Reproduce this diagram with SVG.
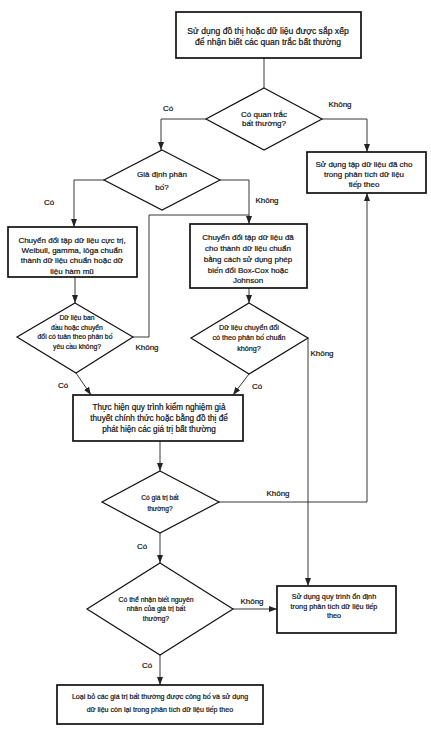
<svg xmlns="http://www.w3.org/2000/svg" width="431" height="734" viewBox="0 0 431 734">
<style>
text{font-family:"Liberation Sans",Arial,sans-serif;fill:#111;stroke:#111;stroke-width:0.2;text-anchor:middle}
.box{fill:#fff;stroke:#111;stroke-width:1.7}
.dia{fill:#fff;stroke:#111;stroke-width:1.2}
.ln{fill:none;stroke:#222;stroke-width:0.9}
.lbl{font-size:8px}
</style>
<defs>
<marker id="ah" viewBox="0 0 8 6" refX="8" refY="3" markerWidth="8" markerHeight="6" markerUnits="userSpaceOnUse" orient="auto">
<path d="M0,0 L8,3 L0,6 z" fill="#222"/>
</marker>
</defs>
<rect width="431" height="734" fill="#fff"/>
<g id="connectors">
<path class="ln" d="M264,58 V88"/>
<path class="ln" d="M206,119 H161 V150" marker-end="url(#ah)"/>
<path class="ln" d="M322,119 H367 V152" marker-end="url(#ah)"/>
<path class="ln" d="M104,180 H74 V227" marker-end="url(#ah)"/>
<path class="ln" d="M220,180 H249 V224" marker-end="url(#ah)"/>
<path class="ln" d="M133,337 H149 V215 H249"/>
<path class="ln" d="M75,277 V303" marker-end="url(#ah)"/>
<path class="ln" d="M249,288 V303" marker-end="url(#ah)"/>
<path class="ln" d="M76,373 L91,395" marker-end="url(#ah)"/>
<path class="ln" d="M249,374 L233,395" marker-end="url(#ah)"/>
<path class="ln" d="M308,338 V586" marker-end="url(#ah)"/>
<path class="ln" d="M160,441 V471" marker-end="url(#ah)"/>
<path class="ln" d="M219,502 H367 V193" marker-end="url(#ah)"/>
<path class="ln" d="M160,533 V563" marker-end="url(#ah)"/>
<path class="ln" d="M233,609 H277" marker-end="url(#ah)"/>
<path class="ln" d="M160,655 V685" marker-end="url(#ah)"/>
<text class="lbl" x="168" y="111">Có</text>
<text class="lbl" x="340" y="107">Không</text>
<text class="lbl" x="49" y="205">Có</text>
<text class="lbl" x="267" y="203">Không</text>
<text class="lbl" x="147" y="350">Không</text>
<text class="lbl" x="63" y="388">Có</text>
<text class="lbl" x="322" y="356">Không</text>
<text class="lbl" x="257" y="389">Có</text>
<text class="lbl" x="278" y="496">Không</text>
<text class="lbl" x="142" y="549">Có</text>
<text class="lbl" x="252" y="604">Không</text>
<text class="lbl" x="147" y="668">Có</text>
</g>
<g id="n1">
<rect class="box" x="176" y="12" width="185" height="46"/>
<text font-size="8.6" x="268" y="34">Sử dụng đồ thị hoặc dữ liệu được sắp xếp</text>
<text font-size="8.6" x="268" y="45">để nhận biết các quan trắc bất thường</text>
</g>
<g id="d1">
<polygon class="dia" points="264,88 322,119 264,150 206,119"/>
<text font-size="8" x="264" y="117">Có quan trắc</text>
<text font-size="8" x="264" y="126">bất thường?</text>
</g>
<g id="n2">
<rect class="box" x="307" y="152" width="119" height="41"/>
<text font-size="8" x="364" y="167">Sử dụng tập dữ liệu đã cho</text>
<text font-size="8" x="364" y="177">trong phân tích dữ liệu</text>
<text font-size="8" x="364" y="187">tiếp theo</text>
</g>
<g id="d2">
<polygon class="dia" points="162,150 220,180 162,210 104,180"/>
<text font-size="8" x="162" y="177">Giả định phân</text>
<text font-size="8" x="162" y="190">bố?</text>
</g>
<g id="n3">
<rect class="box" x="8" y="227" width="129" height="50"/>
<text font-size="8" x="72" y="243">Chuyển đổi tập dữ liệu cực trị,</text>
<text font-size="8" x="72" y="253">Weibull, gamma, lôga chuẩn</text>
<text font-size="8" x="72" y="263">thành dữ liệu chuẩn hoặc dữ</text>
<text font-size="8" x="72" y="274">liệu hàm mũ</text>
</g>
<g id="n4">
<rect class="box" x="190" y="224" width="117" height="64"/>
<text font-size="8" x="248" y="240">Chuyển đổi tập dữ liệu đã</text>
<text font-size="8" x="248" y="251">cho thành dữ liệu chuẩn</text>
<text font-size="8" x="248" y="262">bằng cách sử dụng phép</text>
<text font-size="8" x="248" y="273">biến đổi Box-Cox hoặc</text>
<text font-size="8" x="248" y="283">Johnson</text>
</g>
<g id="d3">
<polygon class="dia" points="75,303 133,337 76,373 17,337"/>
<text font-size="6.8" x="77" y="320">Dữ liệu ban</text>
<text font-size="6.8" x="77" y="330">đầu hoặc chuyển</text>
<text font-size="6.8" x="75" y="339">đổi có tuân theo phân bố</text>
<text font-size="6.8" x="77" y="349">yêu cầu không?</text>
</g>
<g id="d4">
<polygon class="dia" points="249,303 308,338 249,374 191,338"/>
<text font-size="7.2" x="249" y="330">Dữ liệu chuyển đổi</text>
<text font-size="7.2" x="249" y="340">có theo phân bố chuẩn</text>
<text font-size="7.2" x="249" y="351">không?</text>
</g>
<g id="n5">
<rect class="box" x="73" y="395" width="170" height="46"/>
<text font-size="8.2" x="159" y="410">Thực hiện quy trình kiểm nghiệm giả</text>
<text font-size="8.2" x="159" y="421">thuyết chính thức hoặc bằng đồ thị để</text>
<text font-size="8.2" x="159" y="432">phát hiện các giá trị bất thường</text>
</g>
<g id="d5">
<polygon class="dia" points="160,471 219,502 160,533 102,502"/>
<text font-size="6.6" x="160" y="500">Có giá trị bất</text>
<text font-size="6.6" x="160" y="511">thường?</text>
</g>
<g id="d6">
<polygon class="dia" points="160,563 233,609 160,655 87,609"/>
<text font-size="6.9" x="156" y="602">Có thể nhận biết nguyên</text>
<text font-size="6.9" x="156" y="611">nhân của giá trị bất</text>
<text font-size="6.9" x="156" y="621">thường?</text>
</g>
<g id="n6">
<rect class="box" x="277" y="586" width="119" height="47"/>
<text font-size="7.3" x="334" y="599">Sử dụng quy trình ổn định</text>
<text font-size="7.3" x="334" y="609">trong phân tích dữ liệu tiếp</text>
<text font-size="7.3" x="334" y="618">theo</text>
</g>
<g id="n7">
<rect class="box" x="57" y="685" width="206" height="39"/>
<text font-size="7.1" x="160" y="699">Loại bỏ các giá trị bất thường được công bố và sử dụng</text>
<text font-size="7.1" x="160" y="712">dữ liệu còn lại trong phân tích dữ liệu tiếp theo</text>
</g>
</svg>
